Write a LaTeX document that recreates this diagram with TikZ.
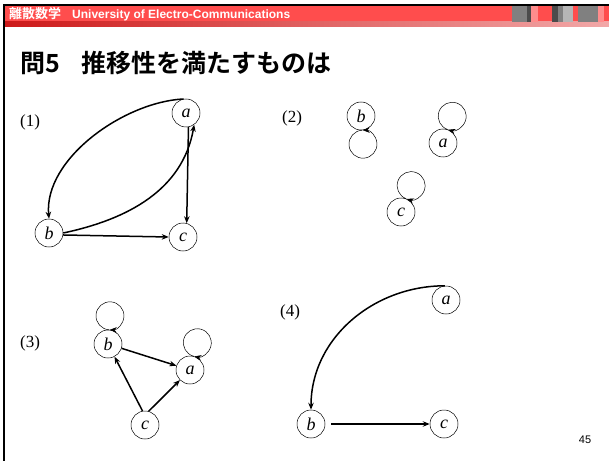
\documentclass[tikz,border=0pt]{standalone}
\usepackage{fontspec}
\setmainfont{Liberation Serif}
\newfontfamily\hdrfont{Liberation Sans}
\newfontfamily\jpfont{Noto Sans CJK JP}[BoldFont={Noto Sans CJK JP Bold}]
\usetikzlibrary{arrows.meta}
\definecolor{hdrred}{RGB}{255,77,77}
\definecolor{hdrdark}{RGB}{205,25,25}
\definecolor{hdrpink}{RGB}{242,168,168}
\definecolor{blkgray}{RGB}{128,128,128}
\definecolor{blkdark}{RGB}{75,75,75}
\definecolor{blklight}{RGB}{182,182,182}
\definecolor{blkpink}{RGB}{255,140,140}

\begin{document}
\begin{tikzpicture}[x=1pt, y=1pt, >={Stealth[length=7pt,width=5.5pt]},
  vtx/.style={draw, circle, minimum size=28pt, inner sep=0pt, line width=0.5pt,
    font=\fontsize{18}{18}\selectfont\itshape},
  edge/.style={->, line width=1.5pt},
  loopy/.style={->, line width=0.5pt},
  lbl/.style={font=\fontsize{17}{17}\selectfont}]
  \useasboundingbox (0,0) rectangle (609,461);
  % header band
  \fill[black] (3,454.5) rectangle (609,456.5);
  \fill[hdrred] (5,439) rectangle (609,454.5);
  \shade[left color=hdrdark, right color=hdrpink] (5,434) rectangle (609,439);
  \foreach \xa/\xb/\col in {512/527/blkgray, 527/531/blkdark, 531/538/blkpink,
      552/558/blkdark, 558/563/blkgray, 563/573/blklight, 578/598/blkgray,
      598/604/blkpink}
    \fill[\col] (\xa,439) rectangle (\xb,454.5);
  \fill[black] (3,0) rectangle (5,456.5);
  \node[anchor=west, text=white, inner sep=0pt] (hdr) at (9,446.5)
    {{\jpfont\bfseries\fontsize{13}{13}\selectfont 離散数学}\hspace{11pt}%
     {\hdrfont\bfseries\fontsize{12}{12}\selectfont University of Electro-Communications}};
  % title
  \node[anchor=west, inner sep=0pt] (title) at (20,398)
    {\jpfont\bfseries\fontsize{25}{25}\selectfont 問5\hspace{22pt}推移性を満たすものは};

  % (1)
  \node[lbl] (l1) at (30,339) {(1)};
  \node[vtx] (a1) at (186,348) {a};
  \node[vtx] (b1) at (49,228) {b};
  \node[vtx] (c1) at (183,224) {c};
  \draw[edge] (a1.100) to[out=183, in=95, looseness=0.85] (b1.north);
  \draw[edge] (b1.east) to[out=12, in=-100] (a1.-55);
  \draw[edge] (a1.-80) -- (c1.75);
  \draw[edge] (b1.-8) -- (c1.west);

  % (2)
  \node[lbl] (l2) at (292,343) {(2)};
  \node[vtx] (b2) at (361,345) {b};
  \node[vtx] (a2) at (443,318) {a};
  \node[vtx] (c2) at (401,249) {c};
  \draw[loopy] (b2.-86) arc[start angle=94, delta angle=357, radius=14pt];
  \draw[loopy] (a2.71) arc[start angle=-109, delta angle=-357, radius=14pt];
  \draw[loopy] (c2.69) arc[start angle=-111, delta angle=-357, radius=14pt];

  % (3)
  \node[lbl] (l3) at (30,118) {(3)};
  \node[vtx] (b3) at (108,117) {b};
  \node[vtx] (a3) at (190,91) {a};
  \node[vtx] (c3) at (145,36) {c};
  \draw[loopy] (b3.86) arc[start angle=-94, delta angle=-357, radius=14pt];
  \draw[loopy] (a3.75) arc[start angle=-105, delta angle=-357, radius=14pt];
  \draw[edge] (b3) -- (a3);
  \draw[edge] (c3.100) -- (b3);
  \draw[edge] (c3.75) -- (a3);

  % (4)
  \node[lbl] (l4) at (290,149) {(4)};
  \node[vtx] (a4) at (446,161) {a};
  \node[vtx] (b4) at (311,37) {b};
  \node[vtx] (c4) at (444,37) {c};
  \draw[edge] (a4.95) to[out=180, in=90] (b4.north);
  \draw[edge, shorten <=6pt] (b4.east) -- (c4.west);

  % page number
  \node[font=\hdrfont\fontsize{11}{11}\selectfont] (pg) at (585,21) {45};
\end{tikzpicture}
\end{document}
